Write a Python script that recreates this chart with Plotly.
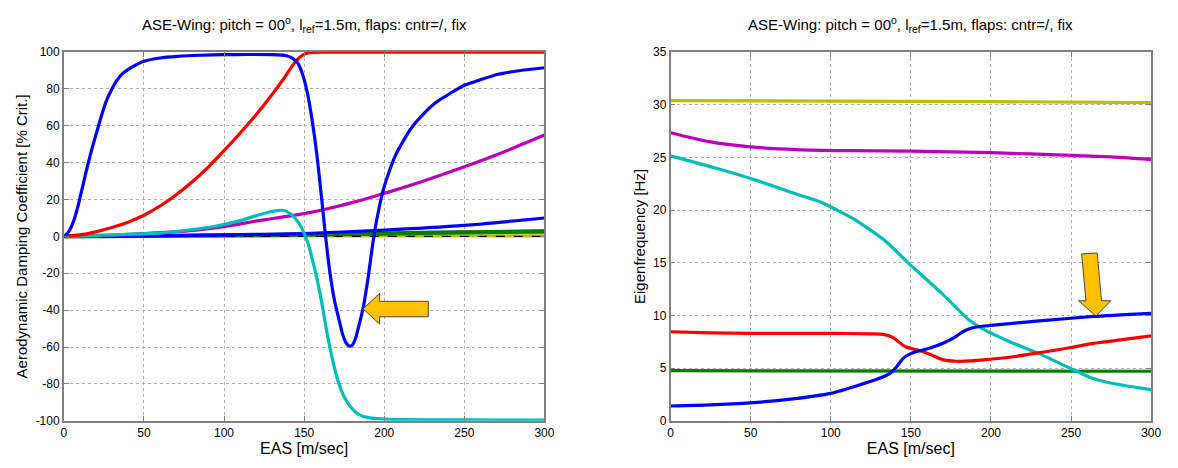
import plotly.graph_objects as go

# ---------------- Left panel: damping (% crit.) ----------------
blue1_x = [0, 3, 6, 9, 12, 15, 18, 21, 24, 27, 30, 33, 36, 40, 45, 50, 60, 71, 85, 100, 115, 130, 139, 143, 146, 149, 152, 155, 158, 161, 163, 166, 169, 172, 174, 176, 178, 180, 182, 184, 187, 190, 193.5, 196, 199, 203, 207, 212, 217, 224, 232, 240, 250, 260, 271, 285, 300]
blue1_y = [0, 2.5, 8, 17, 28, 39, 49, 58, 67, 74.5, 80, 84.5, 87.8, 90.5, 93, 95, 96.8, 97.7, 98.3, 98.6, 98.7, 98.6, 98, 96.5, 94, 88, 78, 63, 44, 20, 3, -19, -35, -46, -53, -57.5, -59.5, -59, -55.5, -49, -38, -22, 0, 12, 24, 35, 44, 52, 59, 66, 72.5, 77, 82, 85, 88, 90, 91.5]

red1_x = [0, 10, 20, 30, 40, 50, 60, 70, 80, 90, 100, 110, 120, 130, 138, 143, 147, 151, 155, 160, 170, 200, 250, 300]
red1_y = [0, 0.8, 2.5, 4.8, 7.7, 11.5, 16.5, 22.5, 29.5, 37.5, 46.5, 56, 66, 77, 86.5, 93, 97, 99.2, 99.8, 100, 100, 100, 100, 100]

mag1_x = [0, 25, 50, 81, 100, 122, 135, 150, 164, 184, 197, 210, 225, 250, 275, 300]
mag1_y = [0, 0.5, 1.5, 3.3, 5.3, 8.6, 10.3, 12.4, 14.9, 19.3, 22.6, 26.0, 30.2, 37.8, 46, 55]

cyan1_x = [0, 30, 61, 92, 110, 127, 133, 136, 139, 143, 146, 148.5, 150.5, 152.5, 155, 158, 161, 164, 167.5, 171, 175, 179, 184, 190, 198, 210, 240, 270, 300]
cyan1_y = [0, 0.8, 1.9, 5.1, 8.6, 13, 14, 14.2, 13.6, 11.2, 8, 4.5, 0.5, -4, -12, -23, -36, -51, -66, -78, -87, -92.5, -96.5, -98.3, -99, -99.4, -99.5, -99.6, -99.6]

blue2_x = [0, 50, 100, 150, 197, 250, 300]
blue2_y = [0, 0.3, 0.8, 1.6, 3.3, 6.0, 10.0]

green1_x = [0, 50, 100, 150, 200, 250, 300]
green1_y = [0, 0.2, 0.5, 0.9, 1.5, 2.1, 2.6]

gray1_x = [0, 50, 100, 150, 200, 250, 300]
gray1_y = [0, 0.3, 0.7, 1.2, 1.8, 2.5, 3.0]

yellow1_x = [0, 300]
yellow1_y = [0.2, 0.3]

zero_x = [0, 300]
zero_y = [0, 0]

# ---------------- Right panel: eigenfrequency (Hz) ----------------
yel2_x = [0, 100, 200, 300]
yel2_y = [30.4, 30.35, 30.3, 30.2]

mag2_x = [0, 24, 50, 79, 110, 150, 200, 250, 275, 300]
mag2_y = [27.35, 26.5, 26.0, 25.75, 25.65, 25.6, 25.45, 25.2, 25.05, 24.8]

cyan2_x = [0, 28, 50, 79, 94, 104, 115, 133, 149, 170, 186, 194, 211, 231, 252, 262, 271, 285, 300]
cyan2_y = [25.15, 24.0, 23.0, 21.5, 20.75, 20.0, 19.1, 17.2, 14.9, 12.0, 9.6, 8.8, 7.55, 6.3, 4.8, 4.1, 3.7, 3.3, 2.95]

red2_x = [0, 25, 50, 100, 125, 133, 139, 143, 147, 157, 165, 171, 178, 188, 197, 215, 232, 250, 264, 282, 300]
red2_y = [8.45, 8.35, 8.3, 8.3, 8.25, 8.2, 7.9, 7.4, 7.0, 6.6, 6.1, 5.75, 5.65, 5.68, 5.8, 6.1, 6.5, 6.95, 7.35, 7.7, 8.05]

blue2r_x = [0, 25, 50, 75, 100, 120, 130, 137, 141, 145, 149, 153, 162, 170, 177, 183, 188, 193, 200, 232, 264, 300]
blue2r_y = [1.4, 1.5, 1.7, 2.05, 2.6, 3.5, 4.0, 4.5, 5.1, 5.9, 6.3, 6.55, 6.9, 7.35, 7.9, 8.5, 8.8, 8.95, 9.05, 9.5, 9.9, 10.2]

green2_x = [0, 300]
green2_y = [4.75, 4.7]

# ---------------- Text ----------------
title_text = "ASE-Wing: pitch = 00<sup>o</sup>, l<sub>ref</sub>=1.5m, flaps: cntr=/, fix"
x_title = "EAS [m/sec]"
yl_title = "Aerodynamic Damping Coefficient [% Crit.]"
yr_title = "Eigenfrequency [Hz]"
x_ticks = [0, 50, 100, 150, 200, 250, 300]
yl_ticks = [-100, -80, -60, -40, -20, 0, 20, 40, 60, 80, 100]
yr_ticks = [0, 5, 10, 15, 20, 25, 30, 35]

BLUE = "#0000FF"
RED = "#FF0000"
MAG = "#BF00BF"
CYAN = "#00BFBF"
GREEN = "#007F00"
OLIVE = "#BFBF00"
DGRAY = "#404040"
LW = 3.2

fig = go.Figure()


def add(x, y, color, xa, ya, width=LW, dash=None):
    fig.add_trace(go.Scatter(
        x=x, y=y, mode="lines", xaxis=xa, yaxis=ya, showlegend=False, hoverinfo="skip",
        line=dict(color=color, width=width, shape="spline", smoothing=0.6, dash=dash)))


# left
add(yellow1_x, yellow1_y, OLIVE, "x", "y")
add(gray1_x, gray1_y, DGRAY, "x", "y")
add(green1_x, green1_y, GREEN, "x", "y", width=4)
add(zero_x, zero_y, "#000000", "x", "y", width=1.2, dash="dash")
add(blue2_x, blue2_y, BLUE, "x", "y")
add(mag1_x, mag1_y, MAG, "x", "y")
add(cyan1_x, cyan1_y, CYAN, "x", "y")
add(red1_x, red1_y, RED, "x", "y")
add(blue1_x, blue1_y, BLUE, "x", "y")

# right
add(yel2_x, yel2_y, OLIVE, "x2", "y2")
add(mag2_x, mag2_y, MAG, "x2", "y2")
add(green2_x, green2_y, GREEN, "x2", "y2")
add(cyan2_x, cyan2_y, CYAN, "x2", "y2")
add(red2_x, red2_y, RED, "x2", "y2")
add(blue2r_x, blue2r_y, BLUE, "x2", "y2")

FONT = "Liberation Sans, Arial, sans-serif"
axis_common = dict(
    showgrid=True, gridcolor="#B0B0B0", griddash="dot", gridwidth=1,
    showline=True, linecolor="#808080", linewidth=1.5, mirror="ticks",
    ticks="inside", ticklen=5, tickcolor="#808080",
    zeroline=False, tickfont=dict(family=FONT, size=12, color="#000"),
)


def labels(vals):
    return [str(v) for v in vals]


L_DOM = [61.5 / 1178, 547.5 / 1178]
R_DOM = [675 / 1178, 1161 / 1178]
Y_DOM = [1 - 426.5 / 468, 1 - 46.5 / 468]

fig.update_layout(
    width=1178, height=468,
    margin=dict(l=0, r=0, t=0, b=0),
    paper_bgcolor="white", plot_bgcolor="white",
    font=dict(family=FONT, color="#000"),
    xaxis=dict(domain=L_DOM, range=[0, 300], tickvals=x_ticks, ticktext=labels(x_ticks), anchor="y",
               title=dict(text=x_title, font=dict(size=16), standoff=4), **axis_common),
    yaxis=dict(domain=Y_DOM, range=[-100, 100], tickvals=yl_ticks, ticktext=labels(yl_ticks), anchor="x",
               title=dict(text=yl_title, font=dict(size=15), standoff=4), **axis_common),
    xaxis2=dict(domain=R_DOM, range=[0, 300], tickvals=x_ticks, ticktext=labels(x_ticks), anchor="y2",
                title=dict(text=x_title, font=dict(size=16), standoff=4), **axis_common),
    yaxis2=dict(domain=Y_DOM, range=[0, 35], tickvals=yr_ticks, ticktext=labels(yr_ticks), anchor="x2",
                title=dict(text=yr_title, font=dict(size=15), standoff=4), **axis_common),
)

for xc in [(L_DOM[0] + L_DOM[1]) / 2, (R_DOM[0] + R_DOM[1]) / 2]:
    fig.add_annotation(text=title_text, x=xc, y=1 - 18 / 468, xref="paper", yref="paper",
                       showarrow=False, font=dict(family=FONT, size=15, color="#000"),
                       xanchor="center", yanchor="middle")

ARROW_FILL = "#FFC000"
ARROW_LINE = "#4A4A3A"

# left arrow (pointing left), in left-axis data coordinates
la = [(186.8, -39.3), (197.1, -30.9), (197.1, -35.2), (227.5, -35.2),
      (227.5, -43.6), (197.1, -43.6), (197.1, -47.5)]
fig.add_shape(type="path", xref="x", yref="y",
              path="M " + " L ".join(f"{a},{b}" for a, b in la) + " Z",
              fillcolor=ARROW_FILL, line=dict(color=ARROW_LINE, width=1))

# right arrow (pointing down), in right-axis data coordinates
ra = [(265.5, 9.95), (274.8, 11.39), (269.0, 11.39), (266.3, 15.93),
      (256.6, 15.84), (259.3, 11.39), (254.6, 11.39)]
fig.add_shape(type="path", xref="x2", yref="y2",
              path="M " + " L ".join(f"{a},{b}" for a, b in ra) + " Z",
              fillcolor=ARROW_FILL, line=dict(color=ARROW_LINE, width=1))

fig.write_html("out.html")
